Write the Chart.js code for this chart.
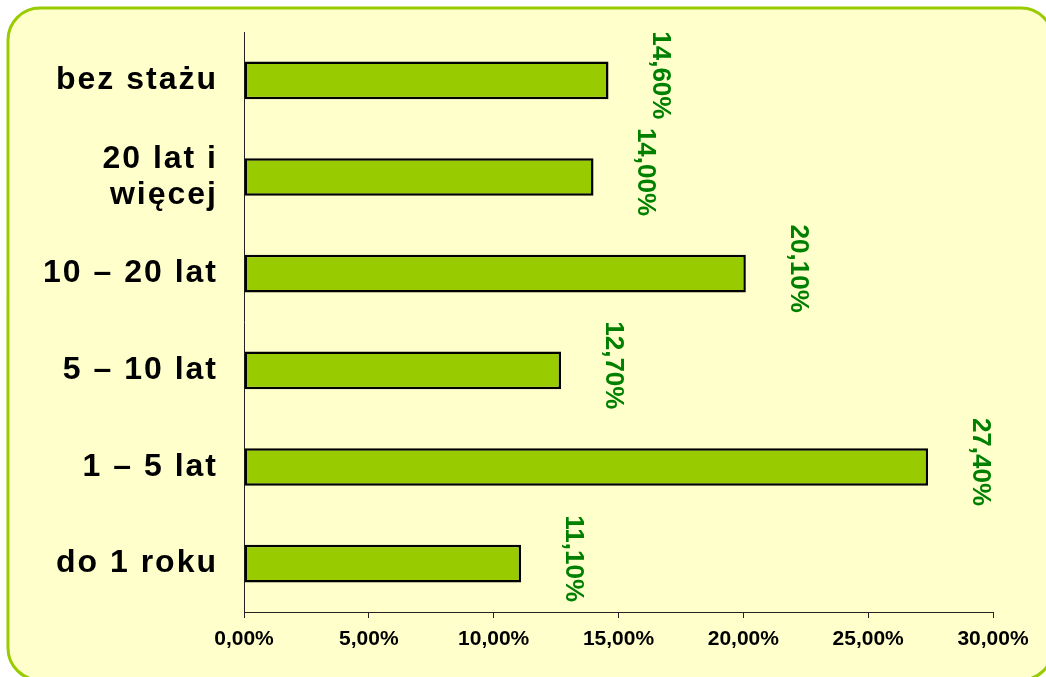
<!DOCTYPE html>
<html>
<head>
<meta charset="utf-8">
<script src="https://cdn.jsdelivr.net/npm/chart.js@4.4.0/dist/chart.umd.min.js"></script>
<style>
  html, body { margin: 0; padding: 0; background: #fff; }
  canvas { display: block; }
</style>
</head>
<body>
<canvas id="staz" width="1046" height="677"></canvas>
<script>
// categories, top to bottom
const categories = ['bez stażu', ['20 lat i', 'więcej'], '10 – 20 lat', '5 – 10 lat', '1 – 5 lat', 'do 1 roku'];
const shares = [14.6, 14.0, 20.1, 12.7, 27.4, 11.1];
const shareLabels = ['14,60%', '14,00%', '20,10%', '12,70%', '27,40%', '11,10%'];
const xTickValues = [0, 5, 10, 15, 20, 25, 30];
const xTickLabels = ['0,00%', '5,00%', '10,00%', '15,00%', '20,00%', '25,00%', '30,00%'];

const FONT = '"Liberation Sans", Arial, sans-serif';

// yellow panel with rounded green frame
const panel = {
    id: 'panel',
    beforeDraw(chart) {
        const ctx = chart.ctx;
        const x = 8, y = 8, w = 1045, h = 672, r = 32;
        ctx.save();
        ctx.beginPath();
        ctx.roundRect(x, y, w, h, r);
        ctx.fillStyle = '#FFFFCC';
        ctx.fill();
        ctx.lineWidth = 3;
        ctx.strokeStyle = '#99CC00';
        ctx.stroke();
        ctx.restore();
    }
};

// category names (spaced-out bold) and rotated value labels
const labels = {
    id: 'labels',
    afterDraw(chart) {
        const ctx = chart.ctx;
        const yScale = chart.scales.y;
        ctx.save();
        ctx.fillStyle = '#000';
        ctx.font = 'bold 32px ' + FONT;
        ctx.letterSpacing = '2px';
        ctx.textAlign = 'right';
        ctx.textBaseline = 'middle';
        categories.forEach((cat, i) => {
            const cy = yScale.getPixelForTick(i);
            const lines = Array.isArray(cat) ? cat : [cat];
            const lh = 36;
            lines.forEach((ln, j) => {
                const ly = cy + (j - (lines.length - 1) / 2) * lh;
                ctx.fillText(ln, 218, ly);
            });
        });

        const meta = chart.getDatasetMeta(0);
        ctx.font = 'bold 26px ' + FONT;
        ctx.letterSpacing = '0px';
        ctx.fillStyle = '#008000';
        ctx.textAlign = 'center';
        meta.data.forEach((bar, i) => {
            ctx.save();
            ctx.translate(bar.x + 52, bar.y - 5);
            ctx.rotate(Math.PI / 2);
            ctx.fillText(shareLabels[i], 0, 0);
            ctx.restore();
        });
        ctx.restore();
    }
};

new Chart(document.getElementById('staz'), {
    type: 'bar',
    data: {
        labels: categories,
        datasets: [{
            data: shares,
            backgroundColor: '#99CC00',
            borderColor: '#000',
            borderWidth: 2.5,
            borderSkipped: false,
            barPercentage: 0.39,
            categoryPercentage: 1
        }]
    },
    options: {
        indexAxis: 'y',
        responsive: false,
        devicePixelRatio: 1,
        animation: false,
        layout: { padding: { left: 0, right: 53, top: 32, bottom: 0 } },
        plugins: { legend: { display: false }, tooltip: { enabled: false } },
        scales: {
            x: {
                min: 0,
                max: 30,
                afterBuildTicks: (scale) => { scale.ticks = xTickValues.map(v => ({ value: v })); },
                afterFit: (scale) => { scale.height = 65; },
                grid: { drawOnChartArea: false, drawTicks: true, tickLength: 6, color: '#222' },
                border: { display: true, color: '#222', width: 1 },
                ticks: {
                    padding: 9,
                    color: '#000',
                    font: { family: FONT, size: 21, weight: 'bold' },
                    callback: (v, i) => xTickLabels[i]
                }
            },
            y: {
                afterFit: (scale) => { scale.width = 244; },
                grid: { display: false },
                border: { display: true, color: '#222', width: 1 },
                ticks: { display: false }
            }
        }
    },
    plugins: [panel, labels]
});
</script>
</body>
</html>
